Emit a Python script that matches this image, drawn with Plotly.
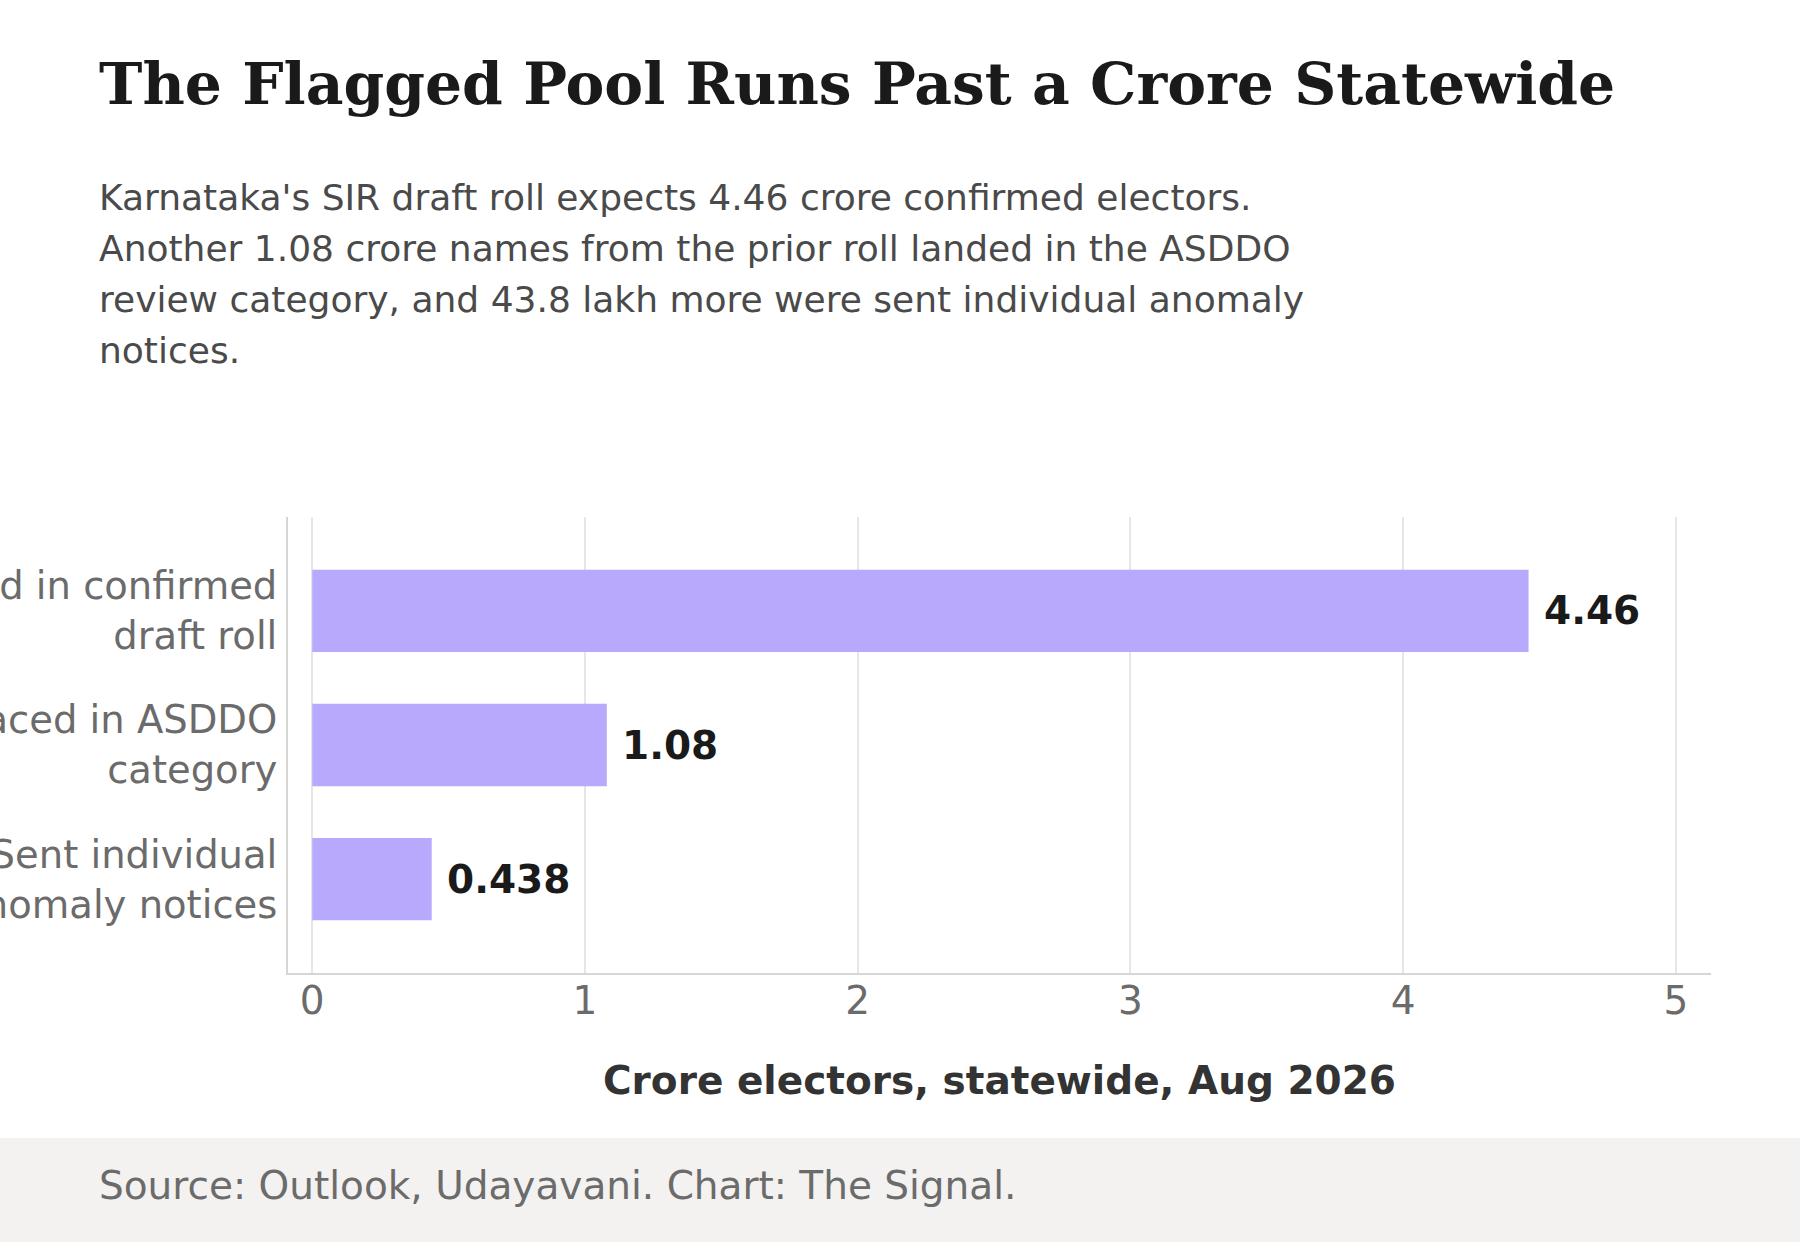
import plotly.graph_objects as go

# Данные: категории и значения (крор избирателей)
categories = [
    "Expected in confirmed<br>draft roll",
    "Placed in ASDDO<br>category",
    "Sent individual<br>anomaly notices",
]
values = [4.46, 1.08, 0.438]
value_labels = ["4.46", "1.08", "0.438"]
x_ticks = [0, 1, 2, 3, 4, 5]

title_text = "The Flagged Pool Runs Past a Crore Statewide"
subtitle_lines = [
    "Karnataka's SIR draft roll expects 4.46 crore confirmed electors.",
    "Another 1.08 crore names from the prior roll landed in the ASDDO",
    "review category, and 43.8 lakh more were sent individual anomaly",
    "notices.",
]
source_text = "Source: Outlook, Udayavani. Chart: The Signal."
x_title = "Crore electors, statewide, Aug 2026"

# Размеры холста и поля (в пикселях)
W, H = 1800, 1242
L, R, T, B = 288, 89, 517, 269
PW, PH = W - L - R, H - T - B


def px_x(p):
    return (p - L) / PW


def px_y(p):
    return (H - B - p) / PH


def baseline(p, size):
    # низ рамки аннотации чуть ниже базовой линии текста
    return px_y(p + 0.25 * size)


fig = go.Figure()

fig.add_trace(go.Bar(
    x=values,
    y=categories,
    orientation="h",
    marker=dict(color="#b8a9fc", line=dict(width=0)),
    hoverinfo="skip",
))

# Подписи значений справа от столбиков
for v, c, lab in zip(values, categories, value_labels):
    fig.add_annotation(
        x=v, y=c, text="<b>%s</b>" % lab, showarrow=False,
        xanchor="left", yanchor="middle", xshift=13,
        font=dict(family="DejaVu Sans", size=39, color="#1a1a1a"),
    )

# Заголовок и подзаголовок
fig.add_annotation(
    x=px_x(97), y=baseline(105, 58), xref="paper", yref="paper",
    text="<b>%s</b>" % title_text, showarrow=False,
    xanchor="left", yanchor="bottom",
    font=dict(family="DejaVu Serif", size=58.3, color="#1a1a1a"),
)
for i, line in enumerate(subtitle_lines):
    fig.add_annotation(
        x=px_x(97), y=baseline(211 + 51 * i, 36), xref="paper", yref="paper",
        text=line, showarrow=False, xanchor="left", yanchor="bottom",
        font=dict(family="DejaVu Sans", size=36, color="#4a4a4a"),
    )

# Подвал
fig.add_shape(
    type="rect", xref="paper", yref="paper",
    x0=px_x(-5), x1=px_x(W + 5), y0=px_y(1138), y1=px_y(H + 5),
    fillcolor="#f3f2f0", line=dict(width=0), layer="below",
)
fig.add_annotation(
    x=px_x(97), y=baseline(1200, 39), xref="paper", yref="paper",
    text=source_text, showarrow=False, xanchor="left", yanchor="bottom",
    font=dict(family="DejaVu Sans", size=39, color="#6b6b6b"),
)

fig.update_xaxes(
    range=[-0.089, 5.129],
    tickvals=x_ticks,
    showgrid=True, gridcolor="#e6e6e6", gridwidth=2,
    zeroline=False,
    showline=True, linecolor="#d6d6d2", linewidth=2,
    ticks="", ticklabelstandoff=-8,
    tickfont=dict(family="DejaVu Sans", size=39, color="#6b6b6b"),
    title=dict(text="<b>%s</b>" % x_title, standoff=45,
               font=dict(family="DejaVu Sans", size=39, color="#333333")),
    fixedrange=True,
)
fig.update_yaxes(
    range=[2.7, -0.7],
    showgrid=False, zeroline=False,
    showline=True, linecolor="#d6d6d2", linewidth=2,
    ticks="", ticklabelstandoff=1,
    tickfont=dict(family="DejaVu Sans", size=38.5, color="#6b6b6b"),
    automargin=False, fixedrange=True,
)

fig.update_layout(
    width=W, height=H,
    margin=dict(l=L, r=R, t=T, b=B, autoexpand=False),
    paper_bgcolor="white", plot_bgcolor="white",
    bargap=0.385, showlegend=False,
    font=dict(family="DejaVu Sans"),
)

# убираем отступ body, чтобы рисунок занимал всё окно
fig.write_html("out.html", config={"displayModeBar": False},
               post_script="document.body.style.margin='0';")
